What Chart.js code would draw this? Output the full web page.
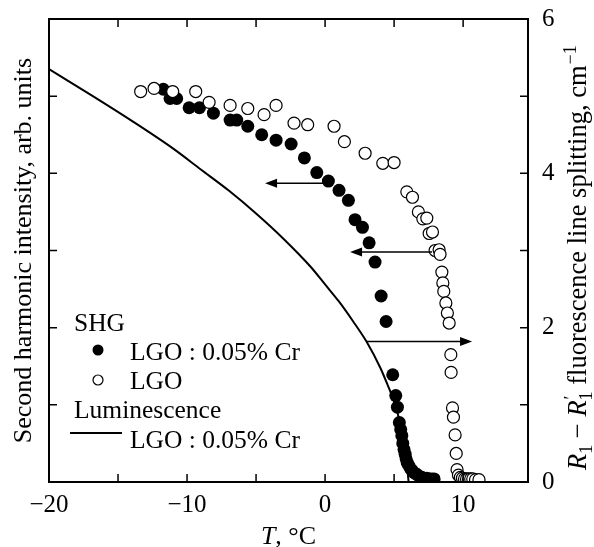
<!DOCTYPE html>
<html><head><meta charset="utf-8">
<script src="https://cdn.jsdelivr.net/npm/chart.js@4.4.0/dist/chart.umd.min.js"></script>
<style>html,body{margin:0;padding:0;background:#fff;}#wrap{width:594px;height:547px;}</style>
</head><body><div id="wrap"><canvas id="c" width="594" height="547"></canvas></div>
<script>
// SHG, LGO:0.05% Cr (filled circles) — temperature, intensity (arb. units, left axis)
const shgCrT = [-11.72,-11.23,-10.75,-9.85,-9.1,-8.09,-6.88,-6.4,-5.6,-4.59,-3.55,-2.46,-1.5,-0.6,0.24,1.01,1.69,2.17,2.71,3.19,3.62,4.06,4.42,4.9,5.12,5.24,5.38,5.48,5.56,5.63,5.72,5.8,5.87,5.95,6.04,6.16,6.3,6.45,6.64,6.85,7.0,7.2,7.37,7.55,7.73,7.9];
const shgCrI = [5.09,4.97,4.97,4.85,4.85,4.78,4.69,4.69,4.61,4.50,4.43,4.38,4.20,4.01,3.90,3.78,3.65,3.40,3.30,3.10,2.85,2.41,2.08,1.39,1.12,0.97,0.77,0.68,0.60,0.50,0.42,0.36,0.30,0.25,0.22,0.18,0.15,0.12,0.10,0.07,0.06,0.05,0.05,0.04,0.04,0.04];
// SHG, LGO (open circles)
const shgT = [-13.36,-12.39,-11.04,-9.37,-8.4,-6.88,-5.6,-4.42,-3.55,-2.25,-1.26,0.65,1.40,2.9,4.18,5.0,5.92,6.33,6.76,7.08,7.37,7.54,7.78,7.97,8.26,8.33,8.46,8.53,8.6,8.75,8.86,8.99,9.11,9.13,9.23,9.30,9.42,9.5,9.56,9.66,9.8,9.95,10.1,10.25,10.4,10.55,10.7,10.9,11.15];
const shgI = [5.06,5.10,5.06,5.06,4.92,4.88,4.84,4.76,4.88,4.65,4.63,4.61,4.41,4.26,4.13,4.14,3.76,3.69,3.50,3.41,3.42,3.22,3.24,3.00,3.01,2.95,2.72,2.58,2.47,2.32,2.19,2.06,1.65,1.42,0.96,0.84,0.61,0.37,0.16,0.09,0.06,0.05,0.04,0.04,0.04,0.04,0.04,0.03,0.03];
// Luminescence, LGO:0.05% Cr — R1-R1' splitting (cm^-1, right axis)
const lumT = [-20,-17,-14,-11,-9,-7,-5,-3,-1,0,1,2,3,4,4.5,5,5.5,5.8,6.05];
const lumS = [5.35,5.02,4.68,4.32,4.05,3.78,3.48,3.15,2.78,2.56,2.34,2.09,1.82,1.48,1.27,1.04,0.72,0.45,0.0];
// tick values and labels
const xTicks = [-20,-15,-10,-5,0,5,10];
const xTickLabels = ['\u221220','','\u221210','','0','','10'];
const yTicks = [0,1,2,3,4,5,6];
const yTickLabels = ['0','','2','','4','','6'];
// arrows (from T, to T, level on axis)
const arrowFromT = [-0.15, 7.75, 3.02];
const arrowToT = [-4.35, 1.81, 10.65];
const arrowLevel = [3.87, 2.98, 1.82];

const serif = "'Liberation Serif','Times New Roman',serif";
const pts = (xs, ys) => xs.map((x, i) => ({x: x, y: ys[i]}));
const noPad = s => { s.paddingTop = 0; s.paddingBottom = 0; s.paddingLeft = 0; s.paddingRight = 0; };

const decor = {
  id: 'decor',
  afterDraw(chart) {
    const c = chart.ctx, a = chart.chartArea;
    const sx = chart.scales.x, sy = chart.scales.y, sy2 = chart.scales.y2;
    c.save();
    c.strokeStyle = '#000'; c.fillStyle = '#000';
    // frame
    c.lineWidth = 2;
    c.strokeRect(a.left, a.top, a.right - a.left, a.bottom - a.top);
    // inner ticks
    c.lineWidth = 1.5;
    c.beginPath();
    xTicks.forEach(v => {
      const p = sx.getPixelForValue(v);
      if (p <= a.left + 1) return;
      c.moveTo(p, a.bottom); c.lineTo(p, a.bottom - 8);
      c.moveTo(p, a.top); c.lineTo(p, a.top + 8);
    });
    yTicks.forEach(v => {
      const p = sy.getPixelForValue(v);
      if (p >= a.bottom - 1 || p <= a.top + 1) return;
      c.moveTo(a.left, p); c.lineTo(a.left + 8, p);
      c.moveTo(a.right, p); c.lineTo(a.right - 8, p);
    });
    c.stroke();
    // arrows
    for (let i = 0; i < arrowFromT.length; i++) {
      const x1 = sx.getPixelForValue(arrowFromT[i]);
      const x2 = sx.getPixelForValue(arrowToT[i]);
      const y = sy2.getPixelForValue(arrowLevel[i]);
      const dir = x2 > x1 ? 1 : -1;
      c.lineWidth = 1.5;
      c.beginPath(); c.moveTo(x1, y); c.lineTo(x2 - dir * 8, y); c.stroke();
      c.beginPath(); c.moveTo(x2, y); c.lineTo(x2 - dir * 12, y - 4.5); c.lineTo(x2 - dir * 12, y + 4.5); c.closePath(); c.fill();
    }
    // legend
    c.font = "25.5px " + serif;
    c.textBaseline = 'alphabetic'; c.textAlign = 'left';
    c.fillText('SHG', 74, 331);
    c.beginPath(); c.arc(98, 350, 5.5, 0, Math.PI * 2); c.fill();
    c.fillText('LGO : 0.05% Cr', 130, 360);
    c.lineWidth = 1.2;
    c.beginPath(); c.arc(98, 380, 5, 0, Math.PI * 2); c.stroke();
    c.fillText('LGO', 130, 389);
    c.fillText('Luminescence', 74, 418);
    c.lineWidth = 2;
    c.beginPath(); c.moveTo(70, 433); c.lineTo(122, 433); c.stroke();
    c.fillText('LGO : 0.05% Cr', 130, 448);
    // bottom title
    const fs = 26;
    c.font = "italic " + fs + "px " + serif;
    const wT = c.measureText('T').width;
    c.font = fs + "px " + serif;
    const wR = c.measureText(', \u00B0C').width;
    const cx = (a.left + a.right) / 2;
    let x0 = cx - (wT + wR) / 2;
    c.font = "italic " + fs + "px " + serif; c.fillText('T', x0, 544);
    c.font = fs + "px " + serif; c.fillText(', \u00B0C', x0 + wT, 544);
    // left title
    c.save();
    c.translate(31, (a.top + a.bottom) / 2);
    c.rotate(-Math.PI / 2);
    c.textAlign = 'center';
    c.font = fs + "px " + serif;
    c.fillText('Second harmonic intensity, arb. units', 0, 0);
    c.restore();
    // right title with sub/superscripts
    const rf = 26.5;
    c.save();
    c.translate(586, 470);
    c.rotate(-Math.PI / 2);
    c.textAlign = 'left';
    let x = 0;
    const it = "italic " + rf + "px " + serif, rg = rf + "px " + serif, sm = Math.round(rf * 0.68) + "px " + serif;
    c.font = it; c.fillText('R', x, 0); x += c.measureText('R').width;
    c.font = sm; c.fillText('1', x, 6); x += c.measureText('1').width;
    c.font = rg; c.fillText(' \u2212 ', x, 0); x += c.measureText(' \u2212 ').width;
    c.font = it; c.fillText('R', x, 0); x += c.measureText('R').width;
    c.font = sm; c.fillText('\u2032', x + 1, -9); c.fillText('1', x, 6); x += c.measureText('1').width;
    c.font = rg; const t2 = ' fluorescence line splitting, cm'; c.fillText(t2, x, 0); x += c.measureText(t2).width;
    c.font = sm; c.fillText('\u22121', x + 1, -10);
    c.restore();
    c.restore();
  }
};

new Chart(document.getElementById('c').getContext('2d'), {
  type: 'scatter',
  data: {
    datasets: [
      {label: 'SHG LGO', data: pts(shgT, shgI), yAxisID: 'y', pointRadius: 6, pointBackgroundColor: '#fff', pointBorderColor: '#000', pointBorderWidth: 1.2, order: 0},
      {label: 'SHG LGO:0.05% Cr', data: pts(shgCrT, shgCrI), yAxisID: 'y', pointRadius: 6.5, pointBackgroundColor: '#000', pointBorderColor: '#000', pointBorderWidth: 0, order: 1},
      {type: 'line', label: 'Luminescence LGO:0.05% Cr', data: pts(lumT, lumS), yAxisID: 'y2', borderColor: '#000', borderWidth: 2, pointRadius: 0, showLine: true, fill: false, cubicInterpolationMode: 'monotone', order: 2}
    ]
  },
  options: {
    responsive: false, animation: false, devicePixelRatio: 1,
    layout: {padding: {top: 19, left: 0, right: 0, bottom: 0}},
    plugins: {legend: {display: false}, tooltip: {enabled: false}},
    scales: {
      x: {
        type: 'linear', position: 'bottom', min: -20, max: 14.7,
        afterBuildTicks: s => { s.ticks = xTicks.map(v => ({value: v})); },
        ticks: {autoSkip: false, maxRotation: 0, padding: 8, color: '#000', font: {family: serif, size: 25},
          callback: v => { const i = xTicks.indexOf(v); return i >= 0 ? xTickLabels[i] : ''; }},
        grid: {display: false, drawTicks: false}, border: {display: false},
        afterFit: s => { s.height = 65; noPad(s); }
      },
      y: {
        type: 'linear', position: 'left', min: 0, max: 6,
        afterBuildTicks: s => { s.ticks = yTicks.map(v => ({value: v})); },
        ticks: {display: false}, grid: {display: false, drawTicks: false}, border: {display: false},
        afterFit: s => { s.width = 49; noPad(s); }
      },
      y2: {
        type: 'linear', position: 'right', min: 0, max: 6,
        afterBuildTicks: s => { s.ticks = yTicks.map(v => ({value: v})); },
        ticks: {autoSkip: false, padding: 14, color: '#000', font: {family: serif, size: 25},
          callback: v => { const i = yTicks.indexOf(v); return i >= 0 ? yTickLabels[i] : ''; }},
        grid: {display: false, drawTicks: false}, border: {display: false},
        afterFit: s => { s.width = 66; noPad(s); }
      }
    }
  },
  plugins: [decor]
});
</script></body></html>
